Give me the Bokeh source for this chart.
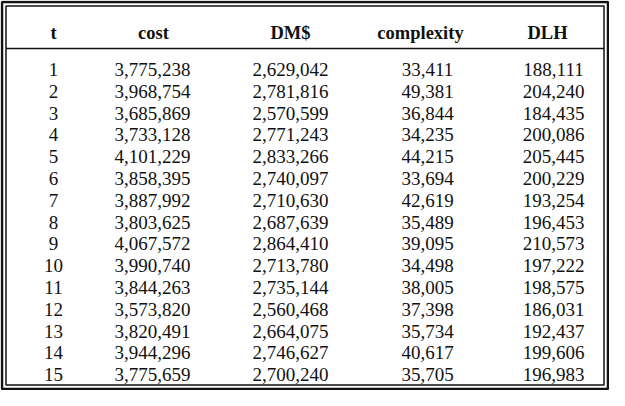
from bokeh.plotting import figure
from bokeh.models import Range1d, ColumnDataSource
from bokeh.core.properties import value
from bokeh.embed import file_html
from bokeh.resources import INLINE

# ---- data ----
t = list(range(1, 16))
cost = [3775238, 3968754, 3685869, 3733128, 4101229, 3858395, 3887992, 3803625,
        4067572, 3990740, 3844263, 3573820, 3820491, 3944296, 3775659]
dm = [2629042, 2781816, 2570599, 2771243, 2833266, 2740097, 2710630, 2687639,
      2864410, 2713780, 2735144, 2560468, 2664075, 2746627, 2700240]
complexity = [33411, 49381, 36844, 34235, 44215, 33694, 42619, 35489,
              39095, 34498, 38005, 37398, 35734, 40617, 35705]
dlh = [188111, 204240, 184435, 200086, 205445, 200229, 193254, 196453,
       210573, 197222, 198575, 186031, 192437, 199606, 196983]
headers = ["t", "cost", "DM$", "complexity", "DLH"]

# ---- layout ----
W, H = 609, 390
header_x = [53, 153, 290, 420, 547]
data_x = [53, 152, 290, 427, 553]
header_y = 32
sep_y = 48
row0_y = 69
row_h = 21.8
FONT = value("Liberation Serif")
INK = "#111111"

p = figure(width=W, height=H, x_range=Range1d(0, W), y_range=Range1d(H, 0),
           output_backend="svg", toolbar_location=None, min_border=0,
           x_axis_location=None, y_axis_location=None)
p.grid.visible = False
p.outline_line_color = None
p.background_fill_color = "white"
p.border_fill_color = "white"

# borders (double frame)
p.quad(left=[1.5], right=[W - 1.5], top=[1.5], bottom=[H - 1.5], fill_color=None,
       line_color=INK, line_width=2.5)
p.quad(left=[5.5], right=[W - 5.5], top=[5.5], bottom=[H - 5.5], fill_color=None,
       line_color=INK, line_width=1.5)
# header separator
p.segment(x0=[5.5], x1=[W - 5.5], y0=[sep_y], y1=[sep_y], line_color=INK, line_width=1.5)

# header
hsrc = ColumnDataSource(dict(x=header_x, y=[header_y] * len(headers), text=headers))
p.text(x="x", y="y", text="text", source=hsrc, text_font=FONT,
       text_font_size="18.5px", text_font_style="bold", text_align="center",
       text_baseline="middle", text_color=INK)

# body
cols = [t, cost, dm, complexity, dlh]
xs, ys, texts = [], [], []
for ci, col in enumerate(cols):
    for ri, v in enumerate(col):
        xs.append(data_x[ci])
        ys.append(row0_y + ri * row_h)
        texts.append(f"{v:,}")
bsrc = ColumnDataSource(dict(x=xs, y=ys, text=texts))
p.text(x="x", y="y", text="text", source=bsrc, text_font=FONT,
       text_font_size="19px", text_align="center", text_baseline="middle",
       text_color=INK)

open("out.html", "w").write(file_html(p, INLINE))
